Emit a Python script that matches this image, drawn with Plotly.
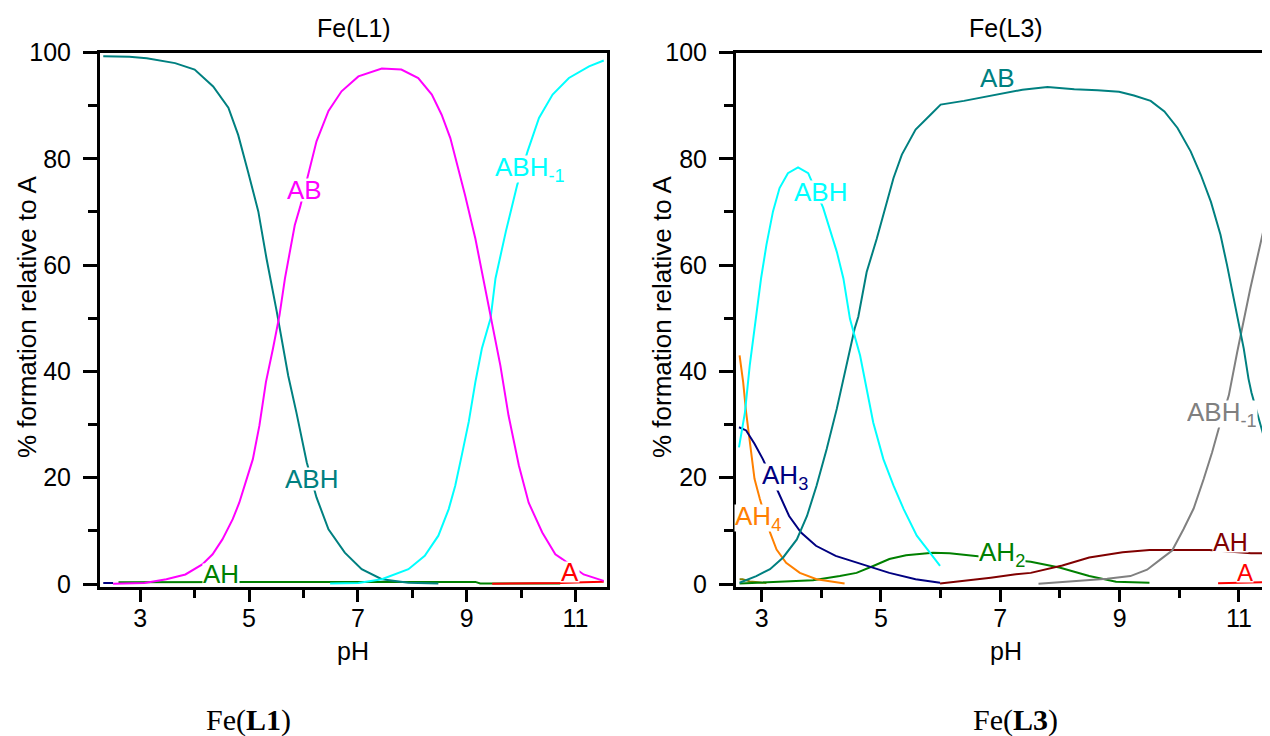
import plotly.graph_objects as go

# ---------------- Fe(L1) data (pH, % formation relative to A) ----------------
L1_ABH_pH = [2.32, 2.8, 3.12, 3.64, 4.0, 4.34, 4.62, 4.80, 4.98, 5.17, 5.32, 5.51, 5.72, 5.87,
             6.06, 6.24, 6.46, 6.76, 7.07, 7.44, 7.93, 8.48]
L1_ABH = [99.3, 99.2, 98.9, 98.0, 96.8, 93.6, 89.6, 84.5, 77.6, 70.1, 61.3, 51.2, 39.2, 32.3,
          22.9, 16.3, 10.3, 5.9, 2.8, 0.9, 0.25, 0.1]

L1_AB_pH = [2.5, 3.08, 3.48, 3.83, 4.14, 4.33, 4.51, 4.70, 4.82, 4.94, 5.07, 5.19, 5.31, 5.44,
            5.56, 5.66, 5.84, 5.94, 6.09, 6.24, 6.46, 6.70, 7.01, 7.44, 7.80, 8.11, 8.36, 8.54,
            8.70, 8.85, 8.97, 9.16, 9.28, 9.45, 9.62, 9.77, 9.96, 10.14, 10.39, 10.63, 10.76,
            11.15, 11.52]
L1_AB = [0.05, 0.2, 0.9, 1.8, 3.7, 5.6, 8.4, 12.2, 15.3, 19.1, 23.5, 29.8, 38.0, 44.3,
         50.6, 57.5, 67.5, 71.0, 77.3, 83.3, 89.0, 92.7, 95.5, 97.0, 96.8, 95.2, 92.1, 88.3,
         83.9, 78.2, 73.2, 65.0, 58.7, 50.4, 41.1, 31.7, 22.3, 15.3, 9.7, 5.6, 4.7,
         1.8, 0.6]

L1_ABHm1_pH = [6.49, 7.01, 7.44, 7.68, 7.93, 8.23, 8.48, 8.67, 8.79, 8.91, 9.04, 9.16, 9.28,
               9.44, 9.53, 9.72, 9.93, 10.12, 10.33, 10.58, 10.88, 11.25, 11.52]
L1_ABHm1 = [0.1, 0.2, 0.9, 1.8, 2.8, 5.3, 9.1, 14.1, 18.5, 24.2, 30.6, 38.0, 44.3,
            50.0, 57.5, 66.3, 75.1, 81.4, 87.7, 92.1, 95.2, 97.4, 98.5]

L1_AH_pH = [2.6, 4.0, 6.0, 8.0, 9.16, 9.25, 10.72]
L1_AH = [0.35, 0.4, 0.4, 0.4, 0.4, 0.1, 0.1]

L1_A_pH = [9.47, 9.96, 10.48, 10.73, 11.15, 11.52]
L1_A = [0.06, 0.06, 0.1, 0.2, 0.35, 0.45]

L1_minor_pH = [2.32, 2.5]
L1_minor = [0.2, 0.2]

# ---------------- Fe(L3) data ----------------
L3_AB_pH = [2.63, 2.91, 3.14, 3.36, 3.59, 3.76, 3.92, 4.09, 4.26, 4.42, 4.56, 4.62, 4.76, 4.93,
            5.10, 5.21, 5.35, 5.58, 5.83, 6.00, 6.39, 6.95, 7.37, 7.79, 8.24, 8.63, 8.99, 9.24,
            9.52, 9.75, 9.97, 10.19, 10.36, 10.53, 10.69, 10.80, 10.89, 10.97, 11.08, 11.16,
            11.21, 11.41, 11.52]
L3_AB = [0.25, 1.5, 2.8, 5.0, 8.4, 12.8, 18.5, 25.4, 33.0, 41.1, 48.1, 50.3, 58.7, 65.0,
         71.9, 76.4, 80.8, 85.5, 88.3, 90.2, 90.9, 92.1, 93.0, 93.5, 93.1, 92.9, 92.6, 91.9,
         90.9, 88.9, 85.8, 81.4, 77.0, 71.9, 65.7, 60.0, 55.0, 49.9, 44.3, 38.6,
         36.0, 28.0, 23.0]

L3_ABH_pH = [2.62, 2.72, 2.80, 2.91, 2.99, 3.08, 3.19, 3.30, 3.44, 3.61, 3.78, 4.03, 4.14, 4.26,
             4.37, 4.48, 4.54, 4.65, 4.76, 4.87, 5.04, 5.21, 5.38, 5.60, 5.82, 5.99]
L3_ABH = [25.7, 32.3, 41.1, 50.3, 57.5, 63.8, 70.1, 74.5, 77.3, 78.4, 77.3, 70.8, 66.9, 62.5,
          57.5, 49.9, 47.4, 43.0, 36.7, 30.4, 23.5, 18.5, 14.1, 9.1, 5.9, 3.4]

L3_AH3_pH = [2.62, 2.74, 2.88, 3.02, 3.27, 3.46, 3.66, 3.91, 4.24, 4.69, 5.14, 5.58, 5.99]
L3_AH3 = [29.5, 28.9, 26.4, 23.5, 17.5, 12.8, 9.7, 7.2, 5.3, 3.7, 2.1, 0.9, 0.25]

L3_AH4_pH = [2.63, 2.69, 2.74, 2.80, 2.88, 2.97, 3.14, 3.25, 3.41, 3.64, 3.92, 4.39]
L3_AH4 = [43.0, 38.0, 32.3, 27.3, 19.8, 16.0, 9.7, 6.5, 4.0, 2.1, 0.9, 0.1]

L3_AH2_pH = [2.63, 3.30, 3.86, 4.31, 4.59, 4.87, 5.14, 5.42, 5.87, 6.15, 6.48, 7.51, 7.99,
             8.49, 8.94, 9.50]
L3_AH2 = [0.1, 0.45, 0.7, 1.5, 2.1, 3.4, 4.7, 5.4, 5.9, 5.8, 5.4, 4.2, 3.1,
          1.5, 0.45, 0.25]

L3_AH_pH = [5.99, 6.39, 6.84, 7.23, 7.51, 8.04, 8.49, 9.05, 9.50, 10.50, 11.20, 11.52]
L3_AH = [0.1, 0.57, 1.2, 1.8, 2.1, 3.5, 5.0, 6.0, 6.4, 6.4, 5.8, 5.8]

L3_A_pH = [10.65, 10.94, 11.32, 11.52]
L3_A = [0.13, 0.2, 0.35, 0.38]

L3_ABHm1_pH = [7.64, 8.34, 8.79, 9.18, 9.46, 9.68, 9.88, 10.07, 10.24, 10.41, 10.55, 10.66,
               10.83, 10.97, 11.08, 11.19, 11.52]
L3_ABHm1 = [0.06, 0.57, 1.0, 1.5, 2.7, 4.6, 6.3, 10.3, 14.2, 19.8, 24.8, 29.2,
            35.5, 43.6, 49.3, 55.6, 72.0]

L3_minor_pH = [2.63, 2.68, 2.8, 3.08]
L3_minor = [0.9, 0.9, 0.5, 0.2]

# ---------------- axis ticks ----------------
x_major = [3, 5, 7, 9, 11]
x_minor = [4, 6, 8, 10]
y_major = [0, 20, 40, 60, 80, 100]
y_minor = [10, 30, 50, 70, 90]

TEAL, MAGENTA, CYAN, GREEN, RED = "#008080", "#FF00FF", "#00FFFF", "#008000", "#FF0000"
NAVY, ORANGE, GRAY, MAROON, OLIVE = "#000080", "#FF8000", "#808080", "#800000", "#808000"

SANS = "Liberation Sans, Arial, sans-serif"
SERIF = "Liberation Serif, Times New Roman, serif"

# page is 1270x736; the html body adds an 8 px margin around the figure
OFF = 8
W, H = 1270 - OFF, 736 - OFF


def fx(px):
    return (px - OFF) / W


def fy(py):
    return (H - (py - OFF)) / H


fig = go.Figure()


def add(xs, ys, color, xa, ya):
    fig.add_trace(go.Scatter(x=xs, y=ys, mode="lines", line=dict(color=color, width=2),
                             xaxis=xa, yaxis=ya, showlegend=False, hoverinfo="skip"))


# left panel
add(L1_minor_pH, L1_minor, NAVY, "x", "y")
add(L1_AH_pH, L1_AH, GREEN, "x", "y")
add(L1_A_pH, L1_A, RED, "x", "y")
add(L1_ABH_pH, L1_ABH, TEAL, "x", "y")
add(L1_ABHm1_pH, L1_ABHm1, CYAN, "x", "y")
add(L1_AB_pH, L1_AB, MAGENTA, "x", "y")

# right panel
add(L3_minor_pH, L3_minor, OLIVE, "x2", "y2")
add(L3_AH2_pH, L3_AH2, GREEN, "x2", "y2")
add(L3_AH_pH, L3_AH, MAROON, "x2", "y2")
add(L3_A_pH, L3_A, RED, "x2", "y2")
add(L3_ABHm1_pH, L3_ABHm1, GRAY, "x2", "y2")
add(L3_AH4_pH, L3_AH4, ORANGE, "x2", "y2")
add(L3_AH3_pH, L3_AH3, NAVY, "x2", "y2")
add(L3_AB_pH, L3_AB, TEAL, "x2", "y2")
add(L3_ABH_pH, L3_ABH, CYAN, "x2", "y2")


def xaxis(domain, rng, anchor):
    return dict(domain=domain, range=rng, anchor=anchor, automargin=False,
                tickmode="array", tickvals=x_major, ticktext=[str(v) for v in x_major],
                ticks="outside", ticklen=12, tickwidth=3, tickcolor="black",
                minor=dict(tickvals=x_minor, ticks="outside", ticklen=8, tickwidth=3,
                           tickcolor="black"),
                showline=True, linewidth=3, linecolor="black", mirror=True,
                showgrid=False, zeroline=False, fixedrange=True,
                tickfont=dict(family=SANS, size=25, color="black"), ticklabelstandoff=-5)


def yaxis(anchor, mirror):
    return dict(domain=[fy(586.7), fy(52.5)], range=[-0.5, 100], anchor=anchor,
                automargin=False, tickmode="array",
                tickvals=y_major, ticktext=[str(v) for v in y_major],
                ticks="outside", ticklen=14, tickwidth=3, tickcolor="black",
                minor=dict(tickvals=y_minor, ticks="outside", ticklen=9, tickwidth=3,
                           tickcolor="black"),
                showline=True, linewidth=3, linecolor="black", mirror=mirror,
                showgrid=False, zeroline=False, fixedrange=True,
                tickfont=dict(family=SANS, size=25, color="black"), ticklabelstandoff=7)


annotations = []


def label(text, x, y, color, xr, yr, height=22, size=26):
    annotations.append(dict(text=text, x=x, y=y, xref=xr, yref=yr, showarrow=False,
                            font=dict(family=SANS, size=size, color=color),
                            bgcolor="white", borderpad=0, height=height,
                            xanchor="center", yanchor="middle"))


# left labels
label("AB", 6.02, 74.2, MAGENTA, "x", "y")
label("ABH<sub>-1</sub>", 10.16, 78.0, CYAN, "x", "y", height=26)
label("ABH", 6.15, 19.8, TEAL, "x", "y")
label("AH", 4.49, 1.9, GREEN, "x", "y", height=20)
label("A", 10.9, 2.2, RED, "x", "y", height=20)

# right labels
label("AB", 6.96, 95.2, TEAL, "x2", "y2")
label("ABH", 3.98, 73.8, CYAN, "x2", "y2")
label("AH<sub>3</sub>", 3.39, 20.1, NAVY, "x2", "y2", height=26)
label("AH<sub>4</sub>", 2.94, 12.5, ORANGE, "x2", "y2", height=26)
label("AH<sub>2</sub>", 7.02, 5.6, GREEN, "x2", "y2", height=26)
label("ABH<sub>-1</sub>", 10.71, 32.0, GRAY, "x2", "y2", height=26)
label("AH", 10.86, 8.0, MAROON, "x2", "y2", height=20, size=25)
label("A", 11.1, 2.3, RED, "x2", "y2", height=20, size=24)


def ptext(text, px, py, size, family=SANS, angle=0):
    annotations.append(dict(text=text, x=fx(px), y=fy(py), xref="paper", yref="paper",
                            showarrow=False, textangle=angle, xanchor="center",
                            yanchor="middle", font=dict(family=family, size=size,
                                                        color="black")))


# titles, axis titles, captions
ptext("Fe(L1)", 354, 28, 25)
ptext("Fe(L3)", 1006, 28, 25)
ptext("pH", 353, 651, 25)
ptext("pH", 1006, 651, 25)
ptext("% formation relative to A", 27, 317, 26, angle=-90)
ptext("% formation relative to A", 662, 317, 26, angle=-90)
ptext("Fe(<b>L1</b>)", 248, 720, 30, family=SERIF)
ptext("Fe(<b>L3</b>)", 1016, 720, 30, family=SERIF)

fig.update_layout(
    template="none",
    width=W, height=H, margin=dict(l=0, r=0, t=0, b=0, pad=0, autoexpand=False),
    paper_bgcolor="white", plot_bgcolor="white",
    xaxis=xaxis([fx(100), fx(607)], [2.26, 11.58], "y"),
    yaxis=yaxis("x", True),
    xaxis2=xaxis([fx(736), 1.0], [2.57, 11.52], "y2"),
    yaxis2=yaxis("x2", False),
    annotations=annotations,
    font=dict(family=SANS),
    showlegend=False,
)

fig.write_html("out.html", config={"displayModeBar": False})
